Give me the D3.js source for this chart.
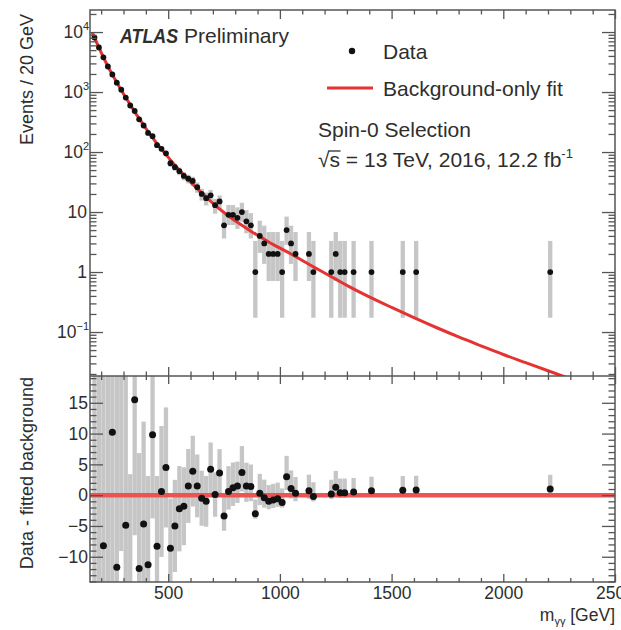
<!DOCTYPE html>
<html><head><meta charset="utf-8">
<script src="https://cdn.jsdelivr.net/npm/d3@7/dist/d3.min.js"></script>
<style>
body{margin:0;background:#fff}
svg{display:block}
text{font-family:"Liberation Sans",Arial,Helvetica,sans-serif;fill:#2e2e2e}
</style></head>
<body><svg id="chart" width="621" height="630"></svg>
<script>
// ---------- data ----------
const binMass = [170,190,210,230,250,270,290,310,330,350,370,390,410,430,450,470,490,510,530,550,
  570,590,610,630,650,670,690,710,730,750,770,790,810,830,850,870,890,910,930,950,970,990,1010,1030,1050,1070,
  1130,1150,1230,1250,1270,1290,1330,1410,1550,1610,2210];
const counts = [8078,5538,3792,2663,1960,1433,1094,808,596,484,351,277,208,184,130,113,95,65,56,48,
  40,36,33,26,20,17,19,13,15,6,9,9,8,10,7,6,1,4,3,2,2,2,1,5,3,2,
  2,1,1,2,1,1,1,1,1,1,1];
const residuals = [-52,38,-8.2,-27,10.2,-11.7,24,-4.9,-21,15.5,-11.9,-4.7,-11.3,9.8,-8.3,0.6,4.5,-8.6,-5.0,-2.2,
  -1.8,1.5,3.9,1.5,-0.5,-1.0,4.2,0.1,3.6,-3.4,0.6,1.2,1.5,3.7,1.5,1.4,-3.0,0.3,-0.4,-1.0,-0.8,-0.6,-1.2,3.0,1.1,0.3,
  0.7,-0.2,0.2,1.3,0.4,0.4,0.5,0.7,0.8,0.85,1.0];
const fitMass = [160,170,190,210,230,250,270,290,310,330,350,370,390,410,430,450,470,490,510,550,590,630,670,710,
  750,790,830,870,910,950,990,1050,1110,1170,1250,1310,1400,1500,1600,1700,1800,1900,2000,2100,2200,2300];
const fitValue = [9800,8130,5500,3800,2690,1950,1445,1070,813,617,468,363,282,219,174,138,112,91,74,50,34.7,24.5,17.8,12.9,
  9.8,7.6,6.0,4.8,3.9,3.16,2.63,2.0,1.48,1.11,0.76,0.57,0.385,0.257,0.174,0.119,0.083,0.059,0.0422,0.0309,0.0226,0.0166];
const xTickValues = [500,1000,1500,2000,2500];
const yTopTickValues = [0.1,1,10,100,1000,10000];
const yTopTickLabels = [["10","−1"],["1",""],["10",""],["10","2"],["10","3"],["10","4"]];
const yBotTickValues = [-10,-5,0,5,10,15];
// Poisson (Garwood) 68% interval bounds for small counts
const poisLo = [0,0.173,0.708,1.367,2.086,2.840,3.620,4.419,5.232,6.057,6.891];
const poisHi = [1.841,3.300,4.638,5.918,7.163,8.382,9.584,10.77,11.95,13.11,14.27];

// ---------- layout ----------
const L=90, R=615, T=10, MID=376, B=582;
const AX="#555";
const svg = d3.select("#chart");
const x = d3.scaleLinear().domain([150,2500]).range([L,R]);
const yTop = d3.scaleLog().domain([0.0185,23300]).range([MID,T]);
const yBot = d3.scaleLinear().domain([-14.1,19.35]).range([B,MID]);

const defs = svg.append("defs");
defs.append("clipPath").attr("id","clipTop").append("rect").attr("x",L).attr("y",T).attr("width",R-L).attr("height",MID-T);
defs.append("clipPath").attr("id","clipBot").append("rect").attr("x",L).attr("y",MID).attr("width",R-L).attr("height",B-MID);

const bins = binMass.map((m,i)=>{
  const n = counts[i];
  let lo, hi;
  if (n <= 10 && Number.isInteger(n)) { lo = poisLo[n]; hi = poisHi[n]; }
  else { lo = n - Math.sqrt(n); hi = n + Math.sqrt(n); }
  return {m, n, r: residuals[i], lo, hi};
});

const barW = 4.3, grey = "#c6c6c6";

// ---------- upper panel ----------
const gTop = svg.append("g").attr("clip-path","url(#clipTop)");
gTop.selectAll("rect.err").data(bins.filter(d=>d.n>0)).join("rect")
  .attr("x", d=>x(d.m)-barW/2).attr("width", barW)
  .attr("y", d=>yTop(d.hi)).attr("height", d=>yTop(Math.max(d.lo,0.001))-yTop(d.hi))
  .attr("fill", grey);
const fitPts = fitMass.map((m,i)=>[m,fitValue[i]]);
gTop.append("path").datum(fitPts)
  .attr("d", d3.line().x(d=>x(d[0])).y(d=>yTop(d[1])).curve(d3.curveMonotoneX))
  .attr("fill","none").attr("stroke","#e53232").attr("stroke-width",3);
gTop.selectAll("circle").data(bins.filter(d=>d.n>0)).join("circle")
  .attr("cx", d=>x(d.m)).attr("cy", d=>yTop(d.n)).attr("r",2.9).attr("fill","#111");

// ---------- lower panel ----------
const gBot = svg.append("g").attr("clip-path","url(#clipBot)");
gBot.selectAll("rect.err").data(bins).join("rect")
  .attr("x", d=>x(d.m)-barW/2).attr("width", barW)
  .attr("y", d=>yBot(d.r + (d.hi-d.n))).attr("height", d=>yBot(d.r-(d.n-d.lo))-yBot(d.r+(d.hi-d.n)))
  .attr("fill", grey);
gBot.append("line").attr("x1",L).attr("x2",R).attr("y1",yBot(0)).attr("y2",yBot(0))
  .attr("stroke","#ec5454").attr("stroke-width",4.5);
gBot.selectAll("circle").data(bins).join("circle")
  .attr("cx", d=>x(d.m)).attr("cy", d=>yBot(d.r)).attr("r",3.5).attr("fill","#111");

// ---------- axes ----------
function styleAxis(g, keepText){
  g.select(".domain").remove();
  g.selectAll("line").attr("stroke",AX).attr("stroke-width",1.3);
  if(!keepText) g.selectAll("text").remove();
  g.attr("font-family",null).attr("font-size",null);
}
const xMinor = d3.range(200,2500,100).filter(v=>v%500!==0);
const yTopMinor = [];
for(let e=-2;e<=4;e++) for(let k=2;k<=9;k++){const v=k*Math.pow(10,e); if(v>0.0185&&v<23300) yTopMinor.push(v);}
const yBotMinor = d3.range(-14,20).filter(v=>v%5!==0);

function xAxes(y, gen, major, minor, labels){
  const g1 = svg.append("g").attr("transform",`translate(0,${y})`)
    .call(gen(x).tickValues(xTickValues).tickSizeInner(-major).tickSizeOuter(0).tickPadding(5).tickFormat(d3.format("d")));
  styleAxis(g1, labels);
  if(labels) g1.selectAll("text").attr("font-size","17.5px").attr("fill","#2e2e2e");
  const g2 = svg.append("g").attr("transform",`translate(0,${y})`)
    .call(gen(x).tickValues(xMinor).tickSizeInner(-minor).tickSizeOuter(0).tickFormat(""));
  styleAxis(g2,false);
}
xAxes(T, d3.axisTop, 9, 4.5, false);
xAxes(MID, d3.axisBottom, 9, 4.5, false);
xAxes(MID, d3.axisTop, 8, 4, false);
xAxes(B, d3.axisBottom, 8, 4, true);

function yAxes(scale, majorVals, minorVals, major, minor){
  [[d3.axisLeft,L],[d3.axisRight,R]].forEach(([gen,px])=>{
    const g1 = svg.append("g").attr("transform",`translate(${px},0)`)
      .call(gen(scale).tickValues(majorVals).tickSizeInner(-major).tickSizeOuter(0).tickFormat(""));
    styleAxis(g1,false);
    const g2 = svg.append("g").attr("transform",`translate(${px},0)`)
      .call(gen(scale).tickValues(minorVals).tickSizeInner(-minor).tickSizeOuter(0).tickFormat(""));
    styleAxis(g2,false);
  });
}
yAxes(yTop, yTopTickValues, yTopMinor, 13, 6.5);
yAxes(yBot, yBotTickValues, yBotMinor, 13, 6.5);

// frame
svg.append("rect").attr("x",L).attr("y",T).attr("width",R-L).attr("height",B-T)
  .attr("fill","none").attr("stroke",AX).attr("stroke-width",1.5);
svg.append("line").attr("x1",L).attr("x2",R).attr("y1",MID).attr("y2",MID).attr("stroke",AX).attr("stroke-width",1.5);

// log tick labels
yTopTickValues.forEach((v,i)=>{
  const [base,sup] = yTopTickLabels[i];
  const t = svg.append("text").attr("x", sup? 89 : 87).attr("y", yTop(v)+6.3)
    .attr("text-anchor","end").attr("font-size","17.5px");
  t.append("tspan").text(base);
  if(sup) t.append("tspan").attr("font-size","11px").attr("dy",-8).text(sup);
});
// lower y labels
yBotTickValues.forEach(v=>{
  svg.append("text").attr("x",88).attr("y",yBot(v)+6.3).attr("text-anchor","end")
    .attr("font-size","17.5px").text(v<0? "−"+(-v) : String(v));
});

// axis titles
svg.append("text").attr("transform",`translate(33,14) rotate(-90)`).attr("text-anchor","end")
  .attr("font-size","18px").text("Events / 20 GeV");
svg.append("text").attr("transform",`translate(33,377) rotate(-90)`).attr("text-anchor","end")
  .attr("font-size","18px").text("Data - fitted background");
const xt = svg.append("text").attr("x",615).attr("y",621).attr("text-anchor","end").attr("font-size","17.5px");
xt.append("tspan").text("m");
xt.append("tspan").attr("font-size","11px").attr("dy",4).text("γγ");
xt.append("tspan").attr("dy",-4).text(" [GeV]");

// ATLAS label
svg.append("text").attr("x",120).attr("y",43).attr("font-size","21px").attr("font-weight","bold")
  .attr("font-style","italic").attr("textLength",58).attr("lengthAdjust","spacingAndGlyphs").text("ATLAS");
svg.append("text").attr("x",184).attr("y",43).attr("font-size","21px").text("Preliminary");

// legend
svg.append("circle").attr("cx",352).attr("cy",51).attr("r",3.2).attr("fill","#111");
svg.append("text").attr("x",383).attr("y",59).attr("font-size","21px").text("Data");
svg.append("line").attr("x1",327).attr("x2",373).attr("y1",88).attr("y2",88).attr("stroke","#e53232").attr("stroke-width",3);
svg.append("text").attr("x",383).attr("y",96).attr("font-size","21px").text("Background-only fit");
svg.append("text").attr("x",318).attr("y",137).attr("font-size","21px").text("Spin-0 Selection");
const st = svg.append("text").attr("x",318).attr("y",167).attr("font-size","21px");
st.append("tspan").text("√s = 13 TeV, 2016, 12.2 fb");
st.append("tspan").attr("font-size","13px").attr("dy",-9).text("-1");
try{
  const n = st.node();
  const p0 = n.getStartPositionOfChar(1), p1 = n.getEndPositionOfChar(1);
  svg.append("line").attr("x1",p0.x-1).attr("x2",p1.x+0.5).attr("y1",151).attr("y2",151)
    .attr("stroke","#2e2e2e").attr("stroke-width",1.3);
}catch(e){}
</script></body></html>
